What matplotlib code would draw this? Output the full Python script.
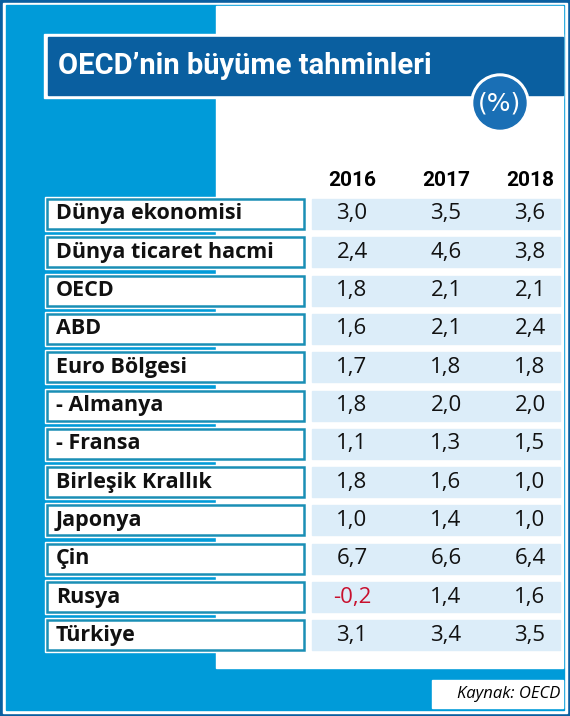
import matplotlib.pyplot as plt
from matplotlib.patches import Rectangle, Circle

# data
countries = ['Dünya ekonomisi', 'Dünya ticaret hacmi', 'OECD', 'ABD', 'Euro Bölgesi',
             '- Almanya', '- Fransa', 'Birleşik Krallık', 'Japonya', 'Çin', 'Rusya', 'Türkiye']
years = ['2016', '2017', '2018']
v2016 = [3.0, 2.4, 1.8, 1.6, 1.7, 1.8, 1.1, 1.8, 1.0, 6.7, -0.2, 3.1]
v2017 = [3.5, 4.6, 2.1, 2.1, 1.8, 2.0, 1.3, 1.6, 1.4, 6.6, 1.4, 3.4]
v2018 = [3.6, 3.8, 2.1, 2.4, 1.8, 2.0, 1.5, 1.0, 1.0, 6.4, 1.6, 3.5]

DARK = '#0a5fa0'
BLUE = '#009bd9'
TEAL = '#1a8fb5'
CELL = '#dcedf9'

fig = plt.figure(figsize=(5.7, 7.16), dpi=100)
ax = fig.add_axes([0, 0, 1, 1])
ax.set_xlim(0, 570)
ax.set_ylim(716, 0)
ax.axis('off')

# frame and backgrounds
ax.add_patch(Rectangle((0, 0), 570, 716, color=DARK))
ax.add_patch(Rectangle((3, 3), 564, 710, color='white'))
ax.add_patch(Rectangle((6, 5), 558, 705, color=BLUE))
ax.add_patch(Rectangle((216, 6), 347, 662, color='white'))

# title bar
ax.add_patch(Rectangle((44, 34), 519, 64, color='white'))
ax.add_patch(Rectangle((48, 37), 515, 58, color=DARK))
ax.text(58, 66, 'OECD\u2019nin büyüme tahminleri', color='white', fontsize=21,
        fontweight='bold', va='center', family='Roboto')
ax.add_patch(Circle((500, 103), 29, color='white'))
ax.add_patch(Circle((500, 103), 26, color='#1a6fb5'))
ax.text(500, 103, '(%)', color='white', fontsize=18, ha='center', va='center')

col_x = [352, 446, 530]
for x, y in zip(col_x, years):
    ax.text(x, 181, y, fontsize=15, fontweight='bold', ha='center', va='center',
            family='Roboto')

row0, step = 214, 38.3
for i, name in enumerate(countries):
    yc = row0 + i * step
    ax.add_patch(Rectangle((45, yc - 17), 261, 34, color='white'))
    ax.add_patch(Rectangle((47, yc - 15), 257, 30, facecolor='white', edgecolor=TEAL, lw=1.8))
    ax.text(56, yc, name, fontsize=15.5, fontweight='bold', va='center', family='Open Sans',
            color='#111111')
    ax.add_patch(Rectangle((312, yc - 15), 248, 30, color=CELL))
    for x, vals in zip(col_x, [v2016, v2017, v2018]):
        v = vals[i]
        s = ('%.1f' % v).replace('.', ',')
        ax.text(x, yc, s, fontsize=16, ha='center', va='center', family='Open Sans',
                color='#c8102e' if v < 0 else '#111111')

# source box
ax.add_patch(Rectangle((432, 680), 131, 28, color='white'))
ax.text(560, 694, 'Kaynak: OECD', fontsize=12, style='italic', ha='right', va='center',
        family='Open Sans')

plt.savefig('out.png', dpi=100)
